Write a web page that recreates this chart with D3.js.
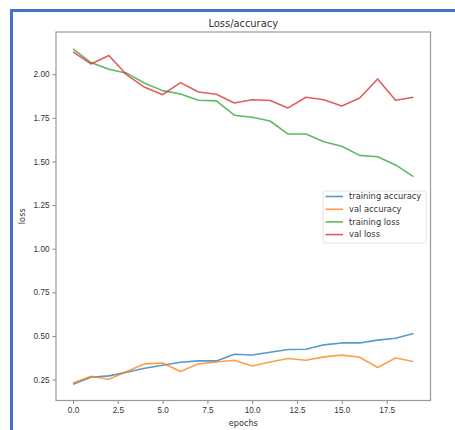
<!DOCTYPE html>
<html>
<head>
<meta charset="utf-8">
<script src="https://cdn.jsdelivr.net/npm/d3@7"></script>
<style>
  html, body { margin: 0; padding: 0; background: #fff; }
  svg { display: block; font-family: 'DejaVu Sans', sans-serif; }
  .axis path, .axis line { stroke: #888; }
  .axis text { fill: #333; font-size: 8.2px; }
</style>
</head>
<body>
<div id="chart"></div>
<script>
const epochs = d3.range(20)
const trainingAccuracy = [0.223, 0.263, 0.271, 0.292, 0.315, 0.332, 0.349, 0.357, 0.357, 0.395,
  0.391, 0.407, 0.422, 0.424, 0.449, 0.460, 0.460, 0.476, 0.487, 0.514]
const valAccuracy = [0.231, 0.269, 0.252, 0.296, 0.340, 0.345, 0.296, 0.340, 0.351, 0.361,
  0.328, 0.351, 0.371, 0.361, 0.380, 0.390, 0.378, 0.319, 0.374, 0.353]
const trainingLoss = [2.145, 2.067, 2.029, 2.006, 1.948, 1.906, 1.887, 1.851, 1.847, 1.765,
  1.753, 1.732, 1.657, 1.657, 1.613, 1.587, 1.535, 1.527, 1.480, 1.413]
const valLoss = [2.128, 2.059, 2.107, 1.996, 1.925, 1.883, 1.952, 1.898, 1.885, 1.835,
  1.854, 1.849, 1.807, 1.868, 1.854, 1.818, 1.864, 1.973, 1.851, 1.868]
const xTicks = [0, 2.5, 5, 7.5, 10, 12.5, 15, 17.5]
const yTicks = [0.25, 0.5, 0.75, 1.0, 1.25, 1.5, 1.75, 2.0]

const series = [
  { name: 'training accuracy', values: trainingAccuracy, color: '#1f77b4' },
  { name: 'val accuracy', values: valAccuracy, color: '#ff7f0e' },
  { name: 'training loss', values: trainingLoss, color: '#2ca02c' },
  { name: 'val loss', values: valLoss, color: '#d62728' }
]

const width = 455, height = 430
const plot = { left: 56, right: 430.5, top: 32, bottom: 400.5 }

const svg = d3.select('#chart').append('svg')
    .attr('width', width)
    .attr('height', height)

// blue frame of the screenshot
svg.append('path')
    .attr('d', 'M11.5,430 V10.5 H455')
    .attr('fill', 'none')
    .attr('stroke', '#4472c4')
    .attr('stroke-width', 3)

const x = d3.scaleLinear().domain([-0.95, 19.95]).range([plot.left, plot.right])
const y = d3.scaleLinear().domain([0.13, 2.242]).range([plot.bottom, plot.top])

svg.append('g')
    .attr('class', 'axis')
    .attr('transform', 'translate(0,' + plot.bottom + ')')
    .call(d3.axisBottom(x).tickValues(xTicks).tickSize(3.5).tickPadding(3).tickFormat(d3.format('.1f')))
    .call(g => g.select('.domain').remove())

svg.append('g')
    .attr('class', 'axis')
    .attr('transform', 'translate(' + plot.left + ',0)')
    .call(d3.axisLeft(y).tickValues(yTicks).tickSize(3.5).tickPadding(3).tickFormat(d3.format('.2f')))
    .call(g => g.select('.domain').remove())

const line = d3.line()
    .x((d, i) => x(epochs[i]))
    .y(d => y(d))

const lines = svg.append('g')
series.forEach(s => {
  lines.append('path')
      .datum(s.values)
      .attr('fill', 'none')
      .attr('stroke', s.color)
      .attr('stroke-opacity', 0.75)
      .attr('stroke-width', 1.6)
      .attr('stroke-linejoin', 'round')
      .attr('d', line)
})

svg.append('rect')
    .attr('x', plot.left)
    .attr('y', plot.top)
    .attr('width', plot.right - plot.left)
    .attr('height', plot.bottom - plot.top)
    .attr('fill', 'none')
    .attr('stroke', '#999')
    .attr('stroke-width', 1.2)

svg.append('text')
    .attr('x', (plot.left + plot.right) / 2)
    .attr('y', 27)
    .attr('text-anchor', 'middle')
    .attr('font-size', 9.9)
    .attr('fill', '#333')
    .text('Loss/accuracy')

svg.append('text')
    .attr('x', (plot.left + plot.right) / 2)
    .attr('y', 426)
    .attr('text-anchor', 'middle')
    .attr('font-size', 8.2)
    .attr('fill', '#333')
    .text('epochs')

svg.append('text')
    .attr('transform', 'translate(25,' + (plot.top + plot.bottom) / 2 + ') rotate(-90)')
    .attr('text-anchor', 'middle')
    .attr('font-size', 8.2)
    .attr('fill', '#333')
    .text('loss')

// legend
const legend = svg.append('g').attr('transform', 'translate(323,191)')
legend.append('rect')
    .attr('width', 103)
    .attr('height', 52)
    .attr('rx', 2)
    .attr('fill', '#fff')
    .attr('fill-opacity', 0.8)
    .attr('stroke', '#ddd')
    .attr('stroke-width', 0.8)

series.forEach((s, i) => {
  const row = legend.append('g').attr('transform', 'translate(0,' + (5.5 + i * 12.7) + ')')
  row.append('line')
      .attr('x1', 2.5).attr('x2', 20)
      .attr('stroke', s.color)
      .attr('stroke-opacity', 0.75)
      .attr('stroke-width', 1.6)
  row.append('text')
      .attr('x', 26)
      .attr('dy', '0.33em')
      .attr('font-size', 8.3)
      .attr('fill', '#333')
      .text(s.name)
})
</script>
</body>
</html>
